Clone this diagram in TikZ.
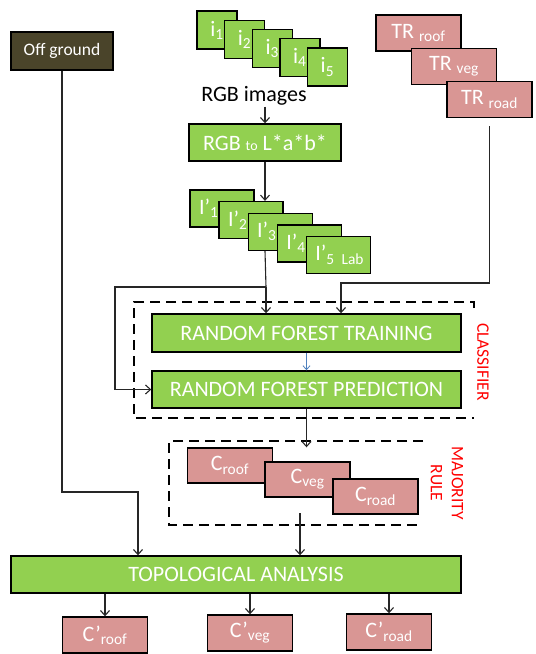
\documentclass[tikz,border=0pt]{standalone}
\usepackage{fontspec}
\setmainfont{Carlito}
\usepackage{xcolor}
\usetikzlibrary{arrows,arrows.meta,positioning}

\definecolor{boxgreen}{HTML}{92D050}
\definecolor{boxpink}{HTML}{D99694}
\definecolor{boxdark}{HTML}{4A442A}
\definecolor{linkblue}{HTML}{4F81BD}
\newcommand{\lo}[1]{\textsubscript{#1}}

\tikzset{
  boxbase/.style={draw=black, line width=1.4pt, text=white, inner sep=0pt,
    font=\fontsize{22}{24}\selectfont},
  greenbox/.style={boxbase, fill=boxgreen},
  pinkbox/.style={boxbase, fill=boxpink, minimum width=85pt, minimum height=36pt},
  flow/.style={-{Straight Barb[length=5pt,width=9pt]}, line width=1.1pt, black!85},
  plain/.style={line width=1.1pt, black!85},
  dashbox/.style={line width=2pt, dash pattern=on 10pt off 6pt},
  redlabel/.style={text=red, font=\fontsize{17.5}{21}\selectfont, rotate=-90, align=center}
}

\begin{document}
\begin{tikzpicture}[x=1pt, y=-1pt]
    \useasboundingbox (0,0) rectangle (536,654);

    % Off ground
    \node[boxbase, fill=boxdark, minimum width=102pt, minimum height=38pt,
          font=\fontsize{17.5}{20}\selectfont] (off) at (62,51) {Off ground};

    % RGB images
    \foreach \k in {1,...,5}
        \node[greenbox, minimum width=40pt, minimum height=38pt]
            (i\k) at ({217+27.6*(\k-1)}, {30+9.25*(\k-1)}) {i\lo{\k}};
    \node[font=\fontsize{22}{24}\selectfont, inner sep=1pt] (rgbtxt) at (254,96) {RGB images};

    % Colour conversion
    \node[greenbox, minimum width=152pt, minimum height=37pt] (rgb) at (265,142.5)
        {RGB {\fontsize{14}{14}\selectfont to} L*a*b*};
    \draw[flow] (rgb.north |- rgbtxt.south) -- (rgb.north);

    % Lab images
    \foreach \k/\s in {1/1,2/2,3/3,4/4,5/5 Lab}
        \node[greenbox, minimum width=64pt, minimum height=37pt, text width=46pt, align=left]
            (l\k) at ({222+29.1*(\k-1)}, {208.5+11.6*(\k-1)}) {\mbox{I’\lo{\s}}};
    \draw[flow] (rgb.south) -- (rgb.south |- l2.north);

    % Training samples
    \foreach \k/\s in {0/roof,1/veg,2/road}
        \node[pinkbox] (tr\s) at ({418.5+35.5*\k}, {33+33.25*\k}) {TR \lo{\s}};

    % Classifier
    \node[greenbox, minimum width=309pt, minimum height=38pt] (train) at (306.5,333)
        {RANDOM FOREST TRAINING};
    \node[greenbox, minimum width=309pt, minimum height=37pt] (pred) at (306.5,389.5)
        {RANDOM FOREST PREDICTION};
    \draw[dashbox] (474,308) -- (474,302) -- (134,302) -- (134,418) -- (474,418);
    \node[redlabel] (clslabel) at (483,362) {CLASSIFIER};
    \draw[-{Straight Barb[length=4pt,width=7pt]}, linkblue, line width=0.8pt] (train) -- (pred);

    \coordinate (split) at (266,287);
    \coordinate (bend) at (115,287);
    \draw[plain] (rgb.south |- l3.south) -- (split);
    \draw[flow] (split) -- (split |- train.north);
    \draw[flow] (split) -- (bend) |- (pred.west);

    \coordinate (trin) at (341,283);
    \draw[flow] ([yshift=-8pt]trroad.south) |- (trin) -- (trin |- train.north);

    % Majority rule
    \node[pinkbox, minimum height=35pt] (croof) at (230,465.5) {C\lo{roof}};
    \node[pinkbox, minimum height=35pt] (cveg) at (307.5,479.5) {C\lo{veg}};
    \node[pinkbox, minimum height=35pt] (croad) at (375.5,496.5) {C\lo{road}};
    \draw[dashbox] (423,441) -- (169,441) -- (169,525) -- (423,525);
    \node[redlabel] (majlabel) at (447,483) {MAJORITY\\RULE};
    \draw[flow] (pred.south) -- (pred.south |- croof.north);

    % Topological analysis
    \node[greenbox, minimum width=450pt, minimum height=37pt] (topo) at (236,574.5)
        {TOPOLOGICAL ANALYSIS};
    \coordinate (majout) at (300,513);
    \draw[flow] (majout) -- (majout |- topo.north);
    \coordinate (offturn) at (138,492);
    \draw[flow] (off.south) |- (offturn) -- (offturn |- topo.north);

    % Outputs
    \foreach \x/\y/\s in {105/635/roof,250/633/veg,389/632/road}
        \node[pinkbox] (out\s) at (\x,\y) {C’\lo{\s}};
    \foreach \s in {roof,veg,road}
        \draw[flow] (topo.south -| out\s.north) -- (out\s.north);
\end{tikzpicture}
\end{document}
